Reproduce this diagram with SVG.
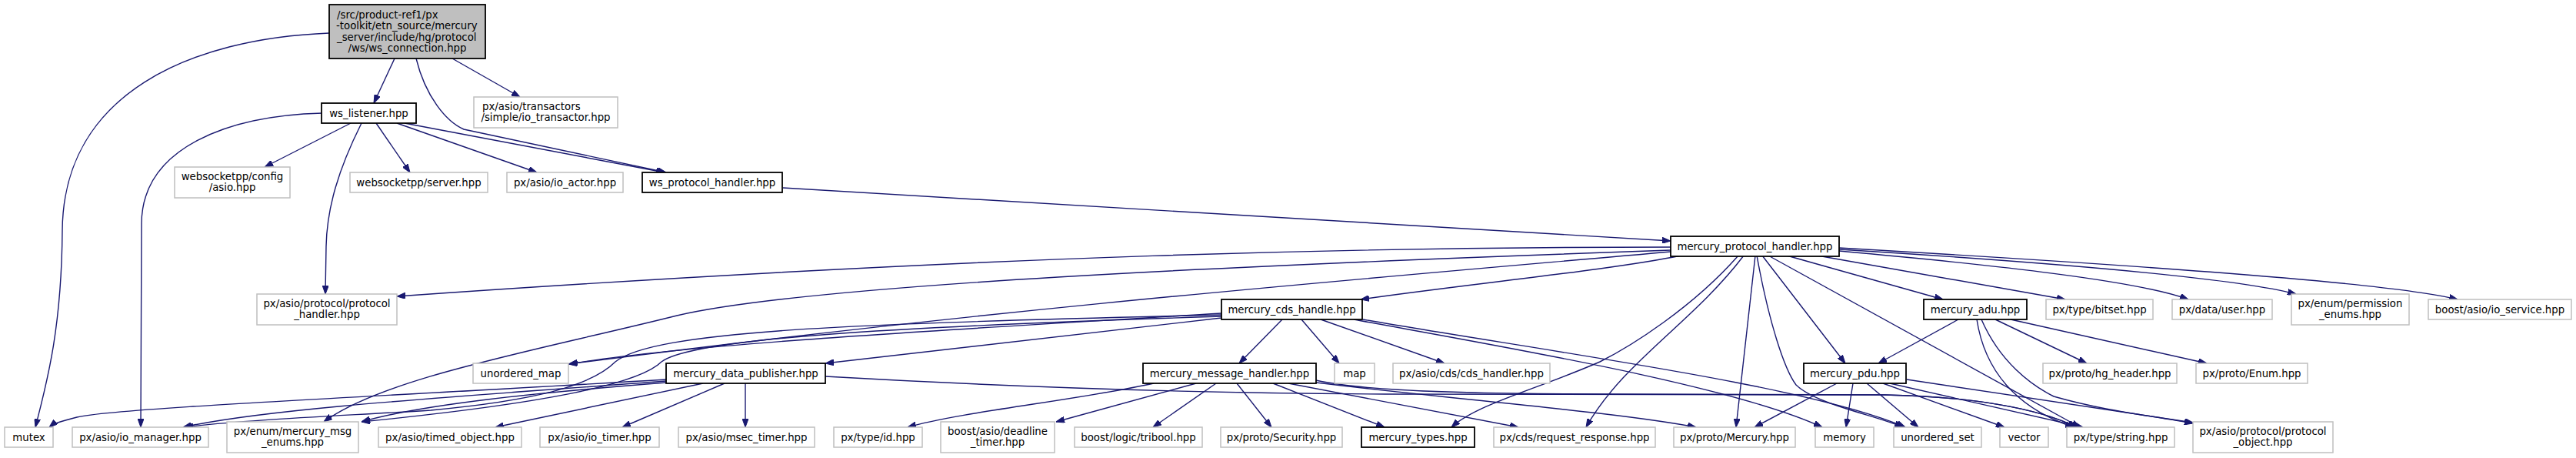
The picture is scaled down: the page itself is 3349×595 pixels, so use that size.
<svg xmlns="http://www.w3.org/2000/svg" width="3349" height="595" viewBox="0 0 3349 595">
<style>
.ext{fill:#fff;stroke:#bfbfbf;stroke-width:1.5}
.doc{fill:#fff;stroke:#000;stroke-width:1.8}
.main{fill:#bfbfbf;stroke:#000;stroke-width:1.8}
text{font-family:"DejaVu Sans","Liberation Sans",sans-serif;font-size:13.3px;fill:#000;text-anchor:middle}
text.l{text-anchor:start}
.e path{fill:none;stroke:#191970;stroke-width:1.4;marker-end:url(#ah)}
</style>
<defs>
<marker id="ah" viewBox="0 0 11 8" refX="11" refY="4" markerWidth="11" markerHeight="8" markerUnits="userSpaceOnUse" orient="auto"><path d="M0,0 L11,4 L0,8 z" fill="#191970" stroke="#191970" stroke-width="1"/></marker>
</defs>
<rect width="3349" height="595" fill="#fff"/>
<g class="e" id="edges">
<path d="M513,76 L486,134"/>
<path d="M588,76 L676,126"/>
<path d="M541,76 C553,125 580,158 603,168 L866,224"/>
<path d="M526,160 L864,224"/>
<path d="M516,160 L698,224"/>
<path d="M489,160 L533,224"/>
<path d="M456,160 L344,217"/>
<path d="M470,160 C440,220 425,270 424,320 L423,382"/>
<path d="M419,147 C300,150 185,190 184,290 L183,555"/>
<path d="M428,43 C250,50 82,120 81,300 C80,430 60,500 46,555"/>
<path d="M1018,244 L2172,313"/>
<path d="M2172,321 C1800,321 1300,330 516,385"/>
<path d="M2172,325 C1600,345 1050,370 880,410 C700,455 500,490 421,548"/>
<path d="M2172,327 C1800,360 1300,400 739,473"/>
<path d="M2185,332 C2100,350 1900,370 1769,389"/>
<path d="M2260,332 C2200,400 2120,450 2080,470 C2000,505 1920,525 1887,555"/>
<path d="M2267,332 C2200,420 2110,470 2062,555"/>
<path d="M2282,332 L2257,555"/>
<path d="M2284,332 C2300,420 2320,480 2335,500 C2360,525 2440,540 2474,555"/>
<path d="M2291,332 L2399,472"/>
<path d="M2299,332 L2704,555"/>
<path d="M2323,332 L2526,389"/>
<path d="M2363,332 L2685,389"/>
<path d="M2391,326 C2600,345 2780,365 2845,389"/>
<path d="M2391,324 C2650,340 2900,360 2985,382"/>
<path d="M2391,322 C2700,340 3100,365 3195,389"/>
<path d="M2546,415 L2442,472"/>
<path d="M2594,415 L2713,472"/>
<path d="M2614,415 L2869,472"/>
<path d="M2570,415 C2580,480 2620,530 2696,555"/>
<path d="M2576,415 C2600,470 2640,500 2670,515 C2740,535 2800,540 2851,550"/>
<path d="M2388,498 L2281,555"/>
<path d="M2409,498 L2400,555"/>
<path d="M2427,498 L2494,555"/>
<path d="M2448,498 L2606,555"/>
<path d="M2457,498 L2708,555"/>
<path d="M2479,493 L2851,549"/>
<path d="M1692,415 L1741,472"/>
<path d="M1717,415 L1878,472"/>
<path d="M1760,415 C1950,450 2250,500 2369,555"/>
<path d="M1772,415 C2000,455 2350,500 2477,555"/>
<path d="M1667,415 L1611,472"/>
<path d="M1588,413 L1073,472"/>
<path d="M1588,407 C1300,425 900,445 740,473"/>
<path d="M1588,409 C1100,420 850,430 800,470 C770,500 700,520 560,533 C450,540 320,545 240,555"/>
<path d="M1588,411 C1150,425 900,440 860,470 C830,500 700,525 470,548"/>
<path d="M866,493 C500,515 150,530 100,542 C80,547 70,550 64,555"/>
<path d="M866,495 C600,515 350,530 238,555"/>
<path d="M866,497 C700,510 550,525 470,548"/>
<path d="M914,498 L644,555"/>
<path d="M942,498 L809,555"/>
<path d="M969,498 L969,555"/>
<path d="M1073,489 C1300,502 1550,511 1800,512 L2450,513 C2560,515 2650,530 2700,555"/>
<path d="M1711,494 C1760,505 1850,510 2000,511.5 L2450,513 C2560,515 2650,530 2699,555"/>
<path d="M1711,497 C1900,520 2100,535 2205,555"/>
<path d="M1655,498 L1800,555"/>
<path d="M1675,498 L1974,555"/>
<path d="M1500,498 C1400,520 1250,535 1180,555"/>
<path d="M1555,498 L1373,548"/>
<path d="M1581,498 L1499,555"/>
<path d="M1608,498 L1653,555"/>
</g>
<g id="n0"><rect class="main" x="428" y="6" width="203" height="70"/><text class="l" x="438" y="23.5">/src/product-ref1/px</text><text class="l" x="437" y="38">-toolkit/etn_source/mercury</text><text class="l" x="438" y="52.5">_server/include/hg/protocol</text><text x="529.5" y="67">/ws/ws_connection.hpp</text></g>
<g id="n1"><rect class="doc" x="418" y="134" width="123" height="26"/><text x="479.5" y="151.5">ws_listener.hpp</text></g>
<g id="n2"><rect class="ext" x="616" y="126" width="187" height="40"/><text class="l" x="627" y="142.8">px/asio/transactors</text><text x="709.5" y="157.2">/simple/io_transactor.hpp</text></g>
<g id="n3"><rect class="ext" x="227" y="217" width="150" height="40"/><text x="302" y="233.8">websocketpp/config</text><text x="302" y="248.2">/asio.hpp</text></g>
<g id="n4"><rect class="ext" x="455" y="224" width="179" height="26"/><text x="544.5" y="241.5">websocketpp/server.hpp</text></g>
<g id="n5"><rect class="ext" x="659" y="224" width="151" height="26"/><text x="734.5" y="241.5">px/asio/io_actor.hpp</text></g>
<g id="n6"><rect class="doc" x="835" y="224" width="182" height="26"/><text x="926" y="241.5">ws_protocol_handler.hpp</text></g>
<g id="n7"><rect class="doc" x="2172" y="307" width="219" height="26"/><text x="2281.5" y="324.5">mercury_protocol_handler.hpp</text></g>
<g id="n8"><rect class="ext" x="334" y="382" width="182" height="40"/><text x="425" y="398.8">px/asio/protocol/protocol</text><text x="425" y="413.2">_handler.hpp</text></g>
<g id="n9"><rect class="doc" x="1588" y="389" width="183" height="26"/><text x="1679.5" y="406.5">mercury_cds_handle.hpp</text></g>
<g id="n10"><rect class="doc" x="2501" y="389" width="134" height="26"/><text x="2568" y="406.5">mercury_adu.hpp</text></g>
<g id="n11"><rect class="ext" x="2660" y="389" width="139" height="26"/><text x="2729.5" y="406.5">px/type/bitset.hpp</text></g>
<g id="n12"><rect class="ext" x="2824" y="389" width="130" height="26"/><text x="2889" y="406.5">px/data/user.hpp</text></g>
<g id="n13"><rect class="ext" x="2979" y="382" width="153" height="40"/><text x="3055.5" y="398.8">px/enum/permission</text><text x="3055.5" y="413.2">_enums.hpp</text></g>
<g id="n14"><rect class="ext" x="3157" y="389" width="186" height="26"/><text x="3250" y="406.5">boost/asio/io_service.hpp</text></g>
<g id="n15"><rect class="ext" x="615" y="472" width="124" height="26"/><text x="677" y="489.5">unordered_map</text></g>
<g id="n16"><rect class="doc" x="866" y="472" width="207" height="26"/><text x="969.5" y="489.5">mercury_data_publisher.hpp</text></g>
<g id="n17"><rect class="doc" x="1486" y="472" width="225" height="26"/><text x="1598.5" y="489.5">mercury_message_handler.hpp</text></g>
<g id="n18"><rect class="ext" x="1735" y="472" width="52" height="26"/><text x="1761" y="489.5">map</text></g>
<g id="n19"><rect class="ext" x="1811" y="472" width="204" height="26"/><text x="1913" y="489.5">px/asio/cds/cds_handler.hpp</text></g>
<g id="n20"><rect class="doc" x="2345" y="472" width="133" height="26"/><text x="2411.5" y="489.5">mercury_pdu.hpp</text></g>
<g id="n21"><rect class="ext" x="2656" y="472" width="174" height="26"/><text x="2743" y="489.5">px/proto/hg_header.hpp</text></g>
<g id="n22"><rect class="ext" x="2855" y="472" width="145" height="26"/><text x="2927.5" y="489.5">px/proto/Enum.hpp</text></g>
<g id="n23"><rect class="ext" x="6" y="555" width="63" height="26"/><text x="37.5" y="572.5">mutex</text></g>
<g id="n24"><rect class="ext" x="94" y="555" width="177" height="26"/><text x="182.5" y="572.5">px/asio/io_manager.hpp</text></g>
<g id="n25"><rect class="ext" x="295" y="548" width="171" height="40"/><text x="380.5" y="564.8">px/enum/mercury_msg</text><text x="380.5" y="579.2">_enums.hpp</text></g>
<g id="n26"><rect class="ext" x="492" y="555" width="186" height="26"/><text x="585" y="572.5">px/asio/timed_object.hpp</text></g>
<g id="n27"><rect class="ext" x="702" y="555" width="155" height="26"/><text x="779.5" y="572.5">px/asio/io_timer.hpp</text></g>
<g id="n28"><rect class="ext" x="882" y="555" width="177" height="26"/><text x="970.5" y="572.5">px/asio/msec_timer.hpp</text></g>
<g id="n29"><rect class="ext" x="1084" y="555" width="115" height="26"/><text x="1141.5" y="572.5">px/type/id.hpp</text></g>
<g id="n30"><rect class="ext" x="1223" y="548" width="148" height="40"/><text x="1297" y="564.8">boost/asio/deadline</text><text x="1297" y="579.2">_timer.hpp</text></g>
<g id="n31"><rect class="ext" x="1397" y="555" width="166" height="26"/><text x="1480" y="572.5">boost/logic/tribool.hpp</text></g>
<g id="n32"><rect class="ext" x="1587" y="555" width="158" height="26"/><text x="1666" y="572.5">px/proto/Security.hpp</text></g>
<g id="n33"><rect class="doc" x="1770" y="555" width="147" height="26"/><text x="1843.5" y="572.5">mercury_types.hpp</text></g>
<g id="n34"><rect class="ext" x="1942" y="555" width="210" height="26"/><text x="2047" y="572.5">px/cds/request_response.hpp</text></g>
<g id="n35"><rect class="ext" x="2176" y="555" width="158" height="26"/><text x="2255" y="572.5">px/proto/Mercury.hpp</text></g>
<g id="n36"><rect class="ext" x="2360" y="555" width="76" height="26"/><text x="2398" y="572.5">memory</text></g>
<g id="n37"><rect class="ext" x="2462" y="555" width="114" height="26"/><text x="2519" y="572.5">unordered_set</text></g>
<g id="n38"><rect class="ext" x="2600" y="555" width="63" height="26"/><text x="2631.5" y="572.5">vector</text></g>
<g id="n39"><rect class="ext" x="2687" y="555" width="140" height="26"/><text x="2757" y="572.5">px/type/string.hpp</text></g>
<g id="n40"><rect class="ext" x="2851" y="548" width="182" height="40"/><text x="2942" y="564.8">px/asio/protocol/protocol</text><text x="2942" y="579.2">_object.hpp</text></g>
</svg>
